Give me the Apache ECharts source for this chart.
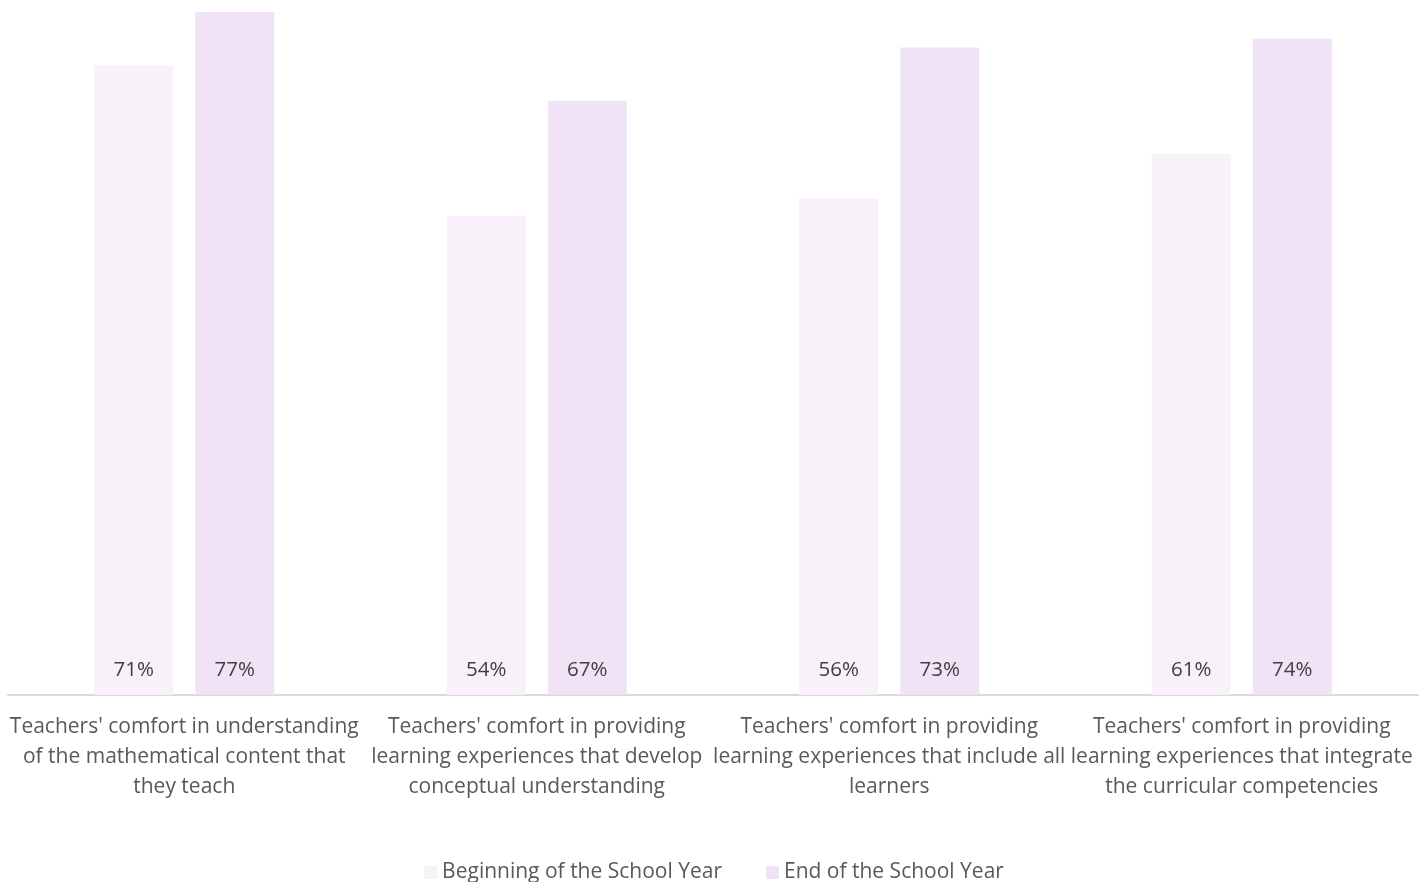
<!DOCTYPE html>
<html>
<head>
<meta charset="utf-8">
<script src="https://cdn.jsdelivr.net/npm/echarts@6/dist/echarts.min.js"></script>
<style>
  html, body { margin: 0; padding: 0; background: #fff; }
  #chart { width: 1428px; height: 882px; }
</style>
</head>
<body>
<div id="chart"></div>
<script>
// categories, wrapped the same way as the original
var categories = [
    "Teachers' comfort in understanding\nof the mathematical content that\nthey teach",
    "Teachers' comfort in providing\nlearning experiences that develop\nconceptual understanding",
    "Teachers' comfort in providing\nlearning experiences that include all\nlearners",
    "Teachers' comfort in providing\nlearning experiences that integrate\nthe curricular competencies"
];
var seriesNames = ['Beginning of the School Year', 'End of the School Year'];
var beginning = [71, 54, 56, 61];
var end = [77, 67, 73, 74];

var chart = echarts.init(document.getElementById('chart'));

var label = {
    show: true,
    position: 'insideBottom',
    distance: 14,
    formatter: '{c}%',
    color: '#404040',
    fontSize: 20.5,
    fontFamily: 'Open Sans'
};

var option = {
    backgroundColor: '#fff',
    animation: false,
    textStyle: { fontFamily: 'Open Sans' },
    grid: {
        left: 8,
        right: 10,
        top: 12,
        bottom: 187
    },
    legend: {
        top: 857,
        left: 'center',
        itemWidth: 13,
        itemHeight: 13,
        itemGap: 44,
        icon: 'rect',
        textStyle: { color: '#595959', fontSize: 21, fontFamily: 'Open Sans' },
        data: seriesNames
    },
    xAxis: {
        type: 'category',
        data: categories,
        axisLine: { lineStyle: { color: '#d9d9d9', width: 2 } },
        axisTick: { show: false },
        axisLabel: {
            interval: 0,
            margin: 17,
            color: '#595959',
            fontSize: 21,
            lineHeight: 30,
            fontFamily: 'Open Sans'
        }
    },
    yAxis: {
        type: 'value',
        min: 0,
        max: 77,
        show: false,
        splitLine: { show: false }
    },
    series: [
        {
            name: seriesNames[0],
            type: 'bar',
            data: beginning,
            barWidth: 79,
            barGap: '28%',
            itemStyle: { color: '#f8f1fa' },
            label: label
        },
        {
            name: seriesNames[1],
            type: 'bar',
            data: end,
            barWidth: 79,
            itemStyle: { color: '#f0e3f6' },
            label: label
        }
    ]
};

chart.setOption(option);
</script>
</body>
</html>
